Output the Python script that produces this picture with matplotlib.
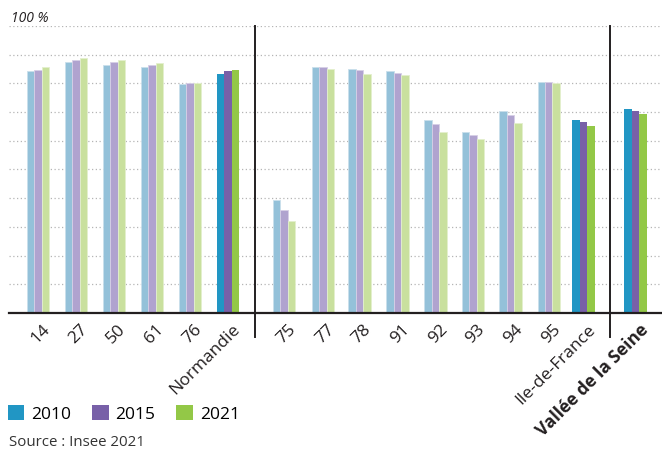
"""Bar chart of shares by department, 2010 / 2015 / 2021."""

import matplotlib.pyplot as plt
import numpy as np
from matplotlib.patches import Patch

plt.rcParams["font.family"] = ["Open Sans", "DejaVu Sans"]

categories = ["14", "27", "50", "61", "76", "Normandie",
              "75", "77", "78", "91", "92", "93", "94", "95", "Ile-de-France",
              "Vallée de la Seine"]
years = ["2010", "2015", "2021"]
values_2010 = [84.3, 87.5, 86.4, 85.6, 79.8, 83.3,
               39.4, 85.6, 85.0, 84.3, 67.2, 63.2, 70.4, 80.6, 67.2, 71.1]
values_2015 = [84.7, 88.2, 87.5, 86.4, 80.1, 84.3,
               35.9, 85.6, 84.7, 83.7, 65.9, 62.0, 69.0, 80.6, 66.6, 70.4]
values_2021 = [85.6, 88.7, 88.2, 87.0, 80.1, 84.7,
               32.1, 85.0, 83.3, 82.9, 63.2, 60.5, 66.3, 80.1, 65.2, 69.3]
totals = ["Normandie", "Ile-de-France", "Vallée de la Seine"]

# group centres; wider gaps around the regional totals
x = np.array([0, 1, 2, 3, 4, 5.0,
              6.47, 7.5, 8.46, 9.46, 10.46, 11.45, 12.44, 13.44, 14.36,
              15.72])
separators = [5.71, 15.05]

light = ["#94c1d9", "#b0a3cf", "#c9e09e"]
light_edge = ["#c9dfeb", "#d6cfe6", "#e3efcd"]
dark = ["#2196c4", "#7860a8", "#93c847"]

fig = plt.figure(figsize=(6.62, 4.5), dpi=100)
ax = fig.add_axes([9 / 662, 137 / 450, 653 / 662, 287 / 450])

w = 0.197
series = [values_2010, values_2015, values_2021]
for i, vals in enumerate(series):
    for xi, cat, v in zip(x, categories, vals):
        if cat in totals:
            ax.bar(xi + (i - 1) * w, v, width=w, color=dark[i], zorder=2,
                   linewidth=0)
        else:
            ax.bar(xi + (i - 1) * w, v, width=w, color=light[i],
                   edgecolor=light_edge[i], linewidth=0.6, zorder=2)

ax.set_xlim(-0.76, 16.42)
ax.set_ylim(0, 100)

# dotted grid every 10 %
for g in range(10, 101, 10):
    ax.axhline(g, color="#b5b5b5", linestyle=(0, (1, 2)), linewidth=0.9,
               zorder=1)
ax.axhline(0, color="#231f20", linewidth=1.6, zorder=3, clip_on=False)

for s in separators:
    ax.plot([s, s], [-0.083, 1.0], color="#231f20", linewidth=1.4,
            transform=ax.get_xaxis_transform(), clip_on=False, zorder=3)

for spine in ax.spines.values():
    spine.set_visible(False)
ax.set_yticks([])
ax.set_xticks(x + 0.1)
ax.set_xticklabels(categories, rotation=45, ha="right",
                   rotation_mode="anchor", fontsize=12.5, color="#231f20")
ax.tick_params(axis="x", length=0, pad=6)
ax.get_xticklabels()[-1].set_fontweight("bold")

fig.text(11 / 662, 1 - 18 / 450, "100 %", fontsize=10, style="italic",
         color="#231f20", va="center", ha="left")

handles = [Patch(facecolor=c, edgecolor="none") for c in dark]
fig.legend(handles, years, loc="center left",
           bbox_to_anchor=(-6 / 662, 1 - 414 / 450), ncol=3, frameon=False,
           fontsize=12.5, handlelength=0.95, handleheight=0.95,
           handletextpad=0.4, columnspacing=1.2, borderpad=0.3)

fig.text(9 / 662, 1 - 442 / 450, "Source : Insee 2021", fontsize=10.8,
         color="#333333", va="center", ha="left")

fig.savefig("out.png", dpi=100)
